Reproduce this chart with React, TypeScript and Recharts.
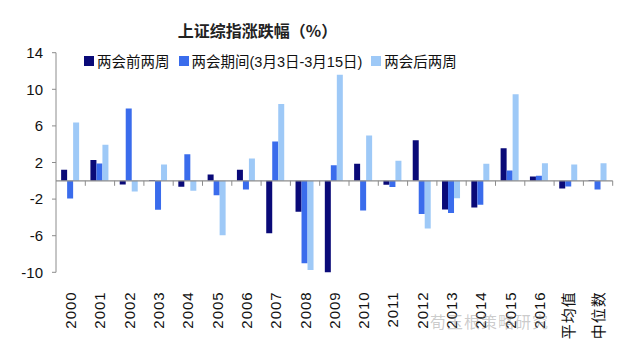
import React from "react";
import { BarChart, Bar, XAxis, YAxis, ReferenceLine, Legend } from "recharts";

const categories = [
  "2000", "2001", "2002", "2003", "2004", "2005", "2006", "2007", "2008", "2009",
  "2010", "2011", "2012", "2013", "2014", "2015", "2016", "平均值", "中位数",
];
// 两会前两周
const beforeValues = [
  1.2, 2.26, -0.4, 0.1, -0.66, 0.69, 1.22, -5.72, -3.39, -10.2,
  1.86, -0.44, 4.44, -3.13, -2.91, 3.57, 0.47, -0.84, 0.1,
];
// 两会期间(3月3日-3月15日)
const duringValues = [
  -1.93, 1.9, 7.9, -3.17, 2.91, -1.57, -0.95, 4.3, -9.0, 1.71,
  -3.24, -0.69, -3.64, -3.53, -2.62, 1.13, 0.55, -0.62, -0.95,
];
// 两会后两周
const afterValues = [
  6.37, 3.93, -1.17, 1.78, -1.1, -5.94, 2.44, 8.38, -9.76, 11.58,
  4.95, 2.19, -5.21, -1.9, 1.86, 9.47, 1.93, 1.78, 1.93,
];
const yTicks = [-10, -6, -2, 2, 6, 10, 14];

const seriesNames = ["两会前两周", "两会期间(3月3日-3月15日)", "两会后两周"];
const COLORS = ["#0a0a78", "#3a6cec", "#9ec9f7"];
const AXIS = "#8c8c8c";
const FONT = '"Liberation Sans", Arial, "Noto Sans CJK SC", sans-serif';

const data = categories.map((c, i) => ({
  cat: c,
  before: beforeValues[i],
  during: duringValues[i],
  after: afterValues[i],
}));

// Rotated category labels hanging below the plot (Excel "low" label position).
function RotatedTick(props: { x?: number; y?: number; payload?: { value: string } }) {
  const { x = 0, y = 0, payload } = props;
  const ty = y + 11;
  return (
    <text
      x={x}
      y={ty}
      transform={`rotate(-90, ${x}, ${ty})`}
      textAnchor="end"
      dominantBaseline="central"
      fontSize={15}
      letterSpacing={1}
      fill="#111"
      fontFamily={FONT}
    >
      {payload?.value}
    </text>
  );
}

// Zero line with small tick marks at the category boundaries.
function ZeroLine(props: { x1?: number; x2?: number; y1?: number; y2?: number }) {
  const { x1 = 0, x2 = 0, y1 = 0 } = props;
  const n = categories.length;
  const step = (x2 - x1) / n;
  const marks = [];
  for (let i = 1; i <= n; i++) {
    const x = x1 + i * step;
    marks.push(<line key={i} x1={x} x2={x} y1={y1} y2={y1 + 5} stroke={AXIS} strokeWidth={1} />);
  }
  return (
    <g>
      <line x1={x1} x2={x2} y1={y1} y2={y1} stroke={AXIS} strokeWidth={1.2} />
      {marks}
    </g>
  );
}

function LegendContent() {
  return (
    <div style={{ display: "flex", alignItems: "center", fontFamily: FONT, fontSize: 14.5, color: "#111", whiteSpace: "nowrap" }}>
      {seriesNames.map((name, i) => (
        <span key={name} style={{ display: "flex", alignItems: "center", marginRight: 9 }}>
          <span style={{ display: "inline-block", width: 10, height: 10, background: COLORS[i], marginRight: 3 }} />
          {name}
        </span>
      ))}
    </div>
  );
}

export default function App() {
  return (
    <div style={{ position: "fixed", left: 0, top: 0, width: 626, height: 361, background: "#fff" }}>
      <div
        style={{
          position: "absolute",
          top: 18,
          left: 0,
          width: 515,
          textAlign: "center",
          fontFamily: '"Noto Sans CJK SC", sans-serif',
          fontSize: 16,
          fontWeight: "bold",
          color: "#222",
        }}
      >
        上证综指涨跌幅（%）
      </div>
      <BarChart
        width={626}
        height={361}
        data={data}
        margin={{ top: 52.7, right: 13.3, bottom: 0, left: 0 }}
        barCategoryGap="17.5%"
        barGap={0}
      >
        <YAxis
          width={56}
          domain={[-10, 14]}
          ticks={yTicks}
          allowDataOverflow
          interval={0}
          tickSize={4}
          tickMargin={9}
          axisLine={{ stroke: AXIS }}
          tickLine={{ stroke: AXIS }}
          tick={{ fontSize: 15, fill: "#111", fontFamily: FONT }}
        />
        <XAxis
          dataKey="cat"
          height={88.7}
          interval={0}
          axisLine={false}
          tickLine={false}
          tick={<RotatedTick />}
        />
        <Legend
          layout="horizontal"
          verticalAlign="middle"
          align="center"
          content={<LegendContent />}
          wrapperStyle={{ top: 50, left: 84, width: 420 }}
        />
        <Bar dataKey="before" name={seriesNames[0]} fill={COLORS[0]} isAnimationActive={false} />
        <Bar dataKey="during" name={seriesNames[1]} fill={COLORS[1]} isAnimationActive={false} />
        <Bar dataKey="after" name={seriesNames[2]} fill={COLORS[2]} isAnimationActive={false} />
        <ReferenceLine y={0} shape={<ZeroLine />} />
      </BarChart>
      <div
        style={{
          position: "absolute",
          left: 430,
          top: 309,
          fontFamily: '"Noto Sans CJK SC", sans-serif',
          fontSize: 16,
          color: "rgba(140,140,140,0.45)",
          letterSpacing: 1,
        }}
      >
        荀玉根策略研究
      </div>
    </div>
  );
}
